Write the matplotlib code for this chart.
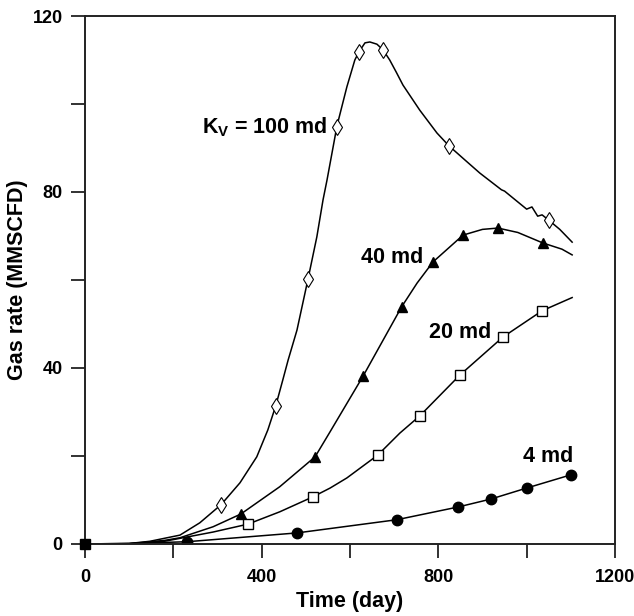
import matplotlib
matplotlib.use('Agg')
import matplotlib.pyplot as plt
from matplotlib.ticker import MultipleLocator

plt.rcParams['font.family'] = ['Liberation Sans', 'DejaVu Sans']
plt.rcParams['font.weight'] = 'bold'
plt.rcParams['mathtext.fontset'] = 'custom'
plt.rcParams['mathtext.rm'] = 'Liberation Sans:bold'
plt.rcParams['mathtext.it'] = 'Liberation Sans:bold'
plt.rcParams['mathtext.bf'] = 'Liberation Sans:bold'

# 曲线数据
kv100_x = [0, 100, 147, 215, 260, 308, 351, 389, 414, 432, 448, 460, 480, 505, 525, 539, 548,
           566, 570, 593, 611, 620, 634, 645, 661, 675, 690, 705, 720, 758, 797, 824, 860, 894,
           943, 950, 1000, 1012, 1025, 1035, 1050, 1075, 1103]
kv100_y = [0, 0.1, 0.6, 2.0, 4.8, 8.9, 13.9, 19.8, 25.9, 31.4, 37.3, 41.8, 48.6, 60.2, 69.8, 78.2, 82.7,
           92.5, 94.8, 103.9, 110, 111.8, 113.9, 114.1, 113.6, 112.3, 110, 107.2, 104.3, 98.6, 93.4, 90.5, 87.3, 84.3,
           80.5, 80.2, 76.1, 76.6, 74.5, 74.8, 73.6, 71.5, 68.6]
kv100_mx = [308, 432, 505, 570, 620, 675, 824, 1050]
kv100_my = [8.9, 31.4, 60.2, 94.8, 111.8, 112.3, 90.5, 73.6]

kv40_x = [0, 100, 180, 215, 290, 353, 441, 521, 555, 630, 717, 752, 788, 856, 900, 935, 980, 1037, 1080, 1103]
kv40_y = [0, 0.05, 0.8, 1.4, 3.9, 6.8, 13, 19.8, 25.5, 38.2, 53.9, 59.3, 64.1, 70.2, 71.5, 71.8, 70.8, 68.4, 67, 65.7]
kv40_mx = [353, 521, 630, 717, 788, 856, 935, 1037]
kv40_my = [6.8, 19.8, 38.2, 53.9, 64.1, 70.2, 71.8, 68.4]

kv20_x = [0, 100, 180, 290, 369, 441, 516, 555, 593, 663, 713, 758, 849, 946, 1035, 1103]
kv20_y = [0, 0.05, 0.6, 2.7, 4.5, 7.3, 10.7, 12.7, 15, 20.2, 25.2, 29.1, 38.4, 47, 53, 56]
kv20_mx = [369, 516, 663, 758, 849, 946, 1035]
kv20_my = [4.5, 10.7, 20.2, 29.1, 38.4, 47, 53]

kv4_x = [0, 100, 231, 480, 706, 845, 919, 1000, 1100]
kv4_y = [0, 0.1, 0.5, 2.5, 5.5, 8.4, 10.2, 12.7, 15.7]
kv4_mx = [231, 480, 706, 845, 919, 1000, 1100]
kv4_my = [0.5, 2.5, 5.5, 8.4, 10.2, 12.7, 15.7]

origin_x = [0]
origin_y = [0]

labels = [r'K$_{\mathrm{V}}$ = 100 md', '40 md', '20 md', '4 md']
label_x = [548, 765, 919, 1105]
label_y = [94.8, 65, 48, 19.8]

fig = plt.figure(figsize=(6.34, 6.16), dpi=100)
ax = fig.add_axes([0.134, 0.117, 0.836, 0.857])

lc = 'black'
ax.plot(kv100_x, kv100_y, color=lc, lw=1.1)
ax.plot(kv100_mx, kv100_my, ls='none', marker='d', ms=8, mfc='white', mec=lc, mew=0.8)
ax.plot(kv40_x, kv40_y, color=lc, lw=1.1)
ax.plot(kv40_mx, kv40_my, ls='none', marker='^', ms=7, color=lc)
ax.plot(kv20_x, kv20_y, color=lc, lw=1.1)
ax.plot(kv20_mx, kv20_my, ls='none', marker='s', ms=7.5, mfc='white', mec=lc, mew=1.0)
ax.plot(kv4_x, kv4_y, color=lc, lw=1.1)
ax.plot(kv4_mx, kv4_my, ls='none', marker='o', ms=7.5, color=lc)
ax.plot(origin_x, origin_y, ls='none', marker='s', ms=7.5, color=lc, clip_on=False, zorder=5)

for t, x, y in zip(labels, label_x, label_y):
    ax.text(x, y, t, ha='right', va='center', fontsize=15.5, fontweight='bold')

ax.set_xlim(0, 1200)
ax.set_ylim(0, 120)
ax.xaxis.set_major_locator(MultipleLocator(400))
ax.xaxis.set_minor_locator(MultipleLocator(200))
ax.yaxis.set_major_locator(MultipleLocator(40))
ax.yaxis.set_minor_locator(MultipleLocator(20))
ax.tick_params(which='both', direction='out', length=10, width=1.3, color='#222222',
               top=False, right=False)
ax.tick_params(axis='x', labelsize=13, pad=8)
ax.tick_params(axis='y', labelsize=13, pad=6)
for lab in ax.get_xticklabels() + ax.get_yticklabels():
    lab.set_fontweight('bold')
for s in ax.spines.values():
    s.set_linewidth(1.4)
    s.set_color('#222222')

ax.set_xlabel('Time (day)', fontsize=15.5, fontweight='bold')
ax.set_ylabel('Gas rate (MMSCFD)', fontsize=15.5, fontweight='bold')
ax.xaxis.set_label_coords(0.5, -0.09)
ax.yaxis.set_label_coords(-0.108, 0.5)

fig.savefig('out.png', dpi=100)
